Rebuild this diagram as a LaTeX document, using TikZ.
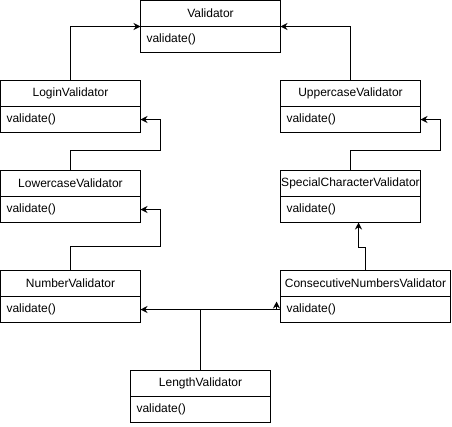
\documentclass[tikz,border=0pt]{standalone}
\usepackage{fontspec}
\setmainfont{Liberation Sans}
\usetikzlibrary{arrows.meta,positioning}

\begin{document}
\begin{tikzpicture}[x=1pt,y=-1pt,
    classHead/.style={draw,line width=1pt,outer sep=0pt,inner sep=0pt,
        minimum width=#1,minimum height=26pt,anchor=north west,
        font=\fontsize{12}{14}\selectfont},
    classHead/.default=140pt,
    classBody/.style={draw,line width=1pt,outer sep=0pt,inner xsep=6pt,
        inner ysep=0pt,text width=#1,align=left,minimum height=26pt,
        font=\fontsize{12}{14}\selectfont},
    classBody/.default=128pt,
    inherit/.style={-{Stealth[length=7pt,width=7pt]},line width=1pt}]
      \useasboundingbox (0,0) rectangle (452,426);

      \node[classHead]          (validHead)   at (140.5,0.5)         {Validator};
      \node[classBody]          (validBody)   [below=0pt of validHead]   {validate()};
      \node[classHead]          (loginHead)   at (0.5,80.5)          {LoginValidator};
      \node[classBody]          (loginBody)   [below=0pt of loginHead]   {validate()};
      \node[classHead]          (upperHead)   at (280.5,80.5)        {UppercaseValidator};
      \node[classBody]          (upperBody)   [below=0pt of upperHead]   {validate()};
      \node[classHead]          (lowerHead)   at (0.5,170.5)         {LowercaseValidator};
      \node[classBody]          (lowerBody)   [below=0pt of lowerHead]   {validate()};
      \node[classHead]          (specialHead) at (280.5,170.5)       {SpecialCharacterValidator};
      \node[classBody]          (specialBody) [below=0pt of specialHead] {validate()};
      \node[classHead]          (numberHead)  at (0.5,270.5)         {NumberValidator};
      \node[classBody]          (numberBody)  [below=0pt of numberHead]  {validate()};
      \node[classHead=170pt]    (consHead)    at (280.5,270.5)       {ConsecutiveNumbersValidator};
      \node[classBody=158pt]    (consBody)    [below=0pt of consHead]    {validate()};
      \node[classHead]          (lengthHead)  at (130.5,370.5)       {LengthValidator};
      \node[classBody]          (lengthBody)  [below=0pt of lengthHead]  {validate()};

      \draw[inherit] (loginHead.north) |- (validHead.south west);
      \draw[inherit] (upperHead.north) |- (validHead.south east);
      \draw[inherit] (lowerHead.north) -- ++(0,-20) -| ([xshift=20pt]loginBody.east) -- (loginBody.east);
      \draw[inherit] (specialHead.north) -- ++(0,-20) -| ([xshift=20pt]upperBody.east) -- (upperBody.east);
      \draw[inherit] (numberHead.north) -- ++(0,-24) -| ([xshift=20pt]lowerBody.east) -- (lowerBody.east);
      \draw[inherit] (consHead.north) -- ++(0,-23) -| ([xshift=8pt]specialBody.south);
      \draw[inherit] (lengthHead.north) |- (numberBody.east);
      \draw[line width=1pt] (lengthHead.north) |- (consBody.west);
      \draw[inherit] ([xshift=-4pt]consBody.west) -- ++(0,-8);
    \end{tikzpicture}
\end{document}
